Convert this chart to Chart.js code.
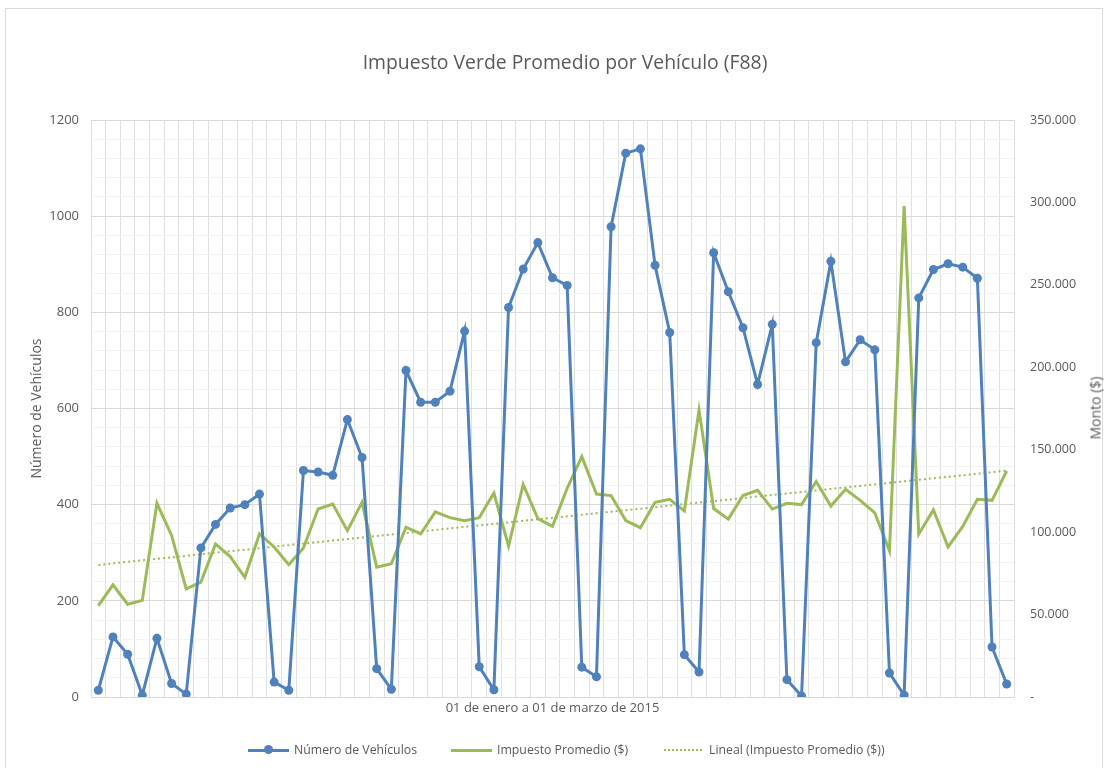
<!DOCTYPE html>
<html>
<head>
<meta charset="utf-8">
<script src="https://cdn.jsdelivr.net/npm/chart.js@4.4.0/dist/chart.umd.min.js"></script>
<style>
html, body { margin: 0; padding: 0; background: #fff; }
#wrap { position: relative; width: 1108px; height: 768px; overflow: hidden; font-family: "Open Sans", sans-serif; color: #595959; }
#frame { position: absolute; left: 5px; top: 8px; width: 1098px; height: 790px; border: 1px solid #d9d9d9; box-sizing: border-box; }
#cv { position: absolute; left: 0; top: 0; }
#title { position: absolute; top: 48px; left: 265px; width: 600px; text-align: center; font-size: 19.4px; white-space: nowrap; }
#ytitle2 { position: absolute; left: 1095px; top: 408px; transform: translate(-50%, -50%) rotate(-90deg); font-size: 14px; white-space: nowrap; }
.lg { position: absolute; top: 741px; font-size: 12.3px; white-space: nowrap; line-height: 18px; }
.mk { position: absolute; top: 749px; height: 0; }
</style>
</head>
<body>
<div id="wrap">
  <div id="frame"></div>
  <canvas id="cv" width="1108" height="768"></canvas>
  <div id="title">Impuesto Verde Promedio por Vehículo (F88)</div>
  <div id="ytitle2">Monto ($)</div>

  <div class="mk" style="left:248px;width:41px;border-top:3px solid #4f81bd;"></div>
  <div class="mk" style="left:264px;top:745px;width:9px;height:9px;border-radius:50%;background:#4f81bd;"></div>
  <div class="lg" style="left:294px;">Número de Vehículos</div>

  <div class="mk" style="left:451px;width:41px;border-top:3px solid #9bbb59;"></div>
  <div class="lg" style="left:497px;">Impuesto Promedio ($)</div>

  <div class="mk" style="left:664px;width:38px;border-top:2px dotted #9bbb59;"></div>
  <div class="lg" style="left:709px;">Lineal (Impuesto Promedio ($))</div>
</div>
<script>
const blue = '#4f81bd';
const green = '#9bbb59';
const txt = '#595959';
const font = 'Open Sans';

// one point per day, 01 ene - 01 mar 2015 (axis shows no tick labels)
const days = Array.from({ length: 63 }, (_, i) => String(i + 1));

const vehiculos = [14,125,89,4,122,28,6,310,359,393,400,422,31,14,471,468,461,577,498,59,
  16,679,613,613,636,761,63,15,810,890,945,872,856,62,42,978,1131,1140,898,758,
  88,52,924,843,768,650,775,36,2,737,906,697,743,722,50,4,830,889,901,894,871,104,27];

const impuesto = [55400,68000,56300,58600,117500,98000,65600,69700,92800,85200,72600,98900,91000,80200,90400,114000,117000,100900,118100,78800,
  80800,103000,98900,112300,108800,107000,108800,123700,91600,128900,108200,103500,126600,145800,123100,122200,107000,102700,118100,119900,
  112900,174100,114300,107900,122200,125400,114000,117500,116700,130700,115800,126000,119300,111700,88700,297800,98900,113500,91000,103500,119900,119300,137100];

// least squares trend, as in the spreadsheet's linear trendline
function trend(ys) {
  const n = ys.length;
  let sx = 0, sy = 0, sxy = 0, sxx = 0;
  ys.forEach((y, x) => { sx += x; sy += y; sxy += x * y; sxx += x * x; });
  const b = (n * sxy - sx * sy) / (n * sxx - sx * sx);
  const a = (sy - b * sx) / n;
  return ys.map((_, x) => a + b * x);
}

const fmt = v => v === 0 ? '-' : String(v).replace(/\B(?=(\d{3})+(?!\d))/g, '.');

new Chart(document.getElementById('cv'), {
  type: 'line',
  data: {
    labels: days,
    datasets: [
      { label: 'Número de Vehículos', data: vehiculos, yAxisID: 'y', borderColor: blue, backgroundColor: blue,
        borderWidth: 3, pointRadius: 4.5, pointBorderWidth: 0, pointBackgroundColor: blue, tension: 0, order: 0 },
      { label: 'Impuesto Promedio ($)', data: impuesto, yAxisID: 'y1', borderColor: green, backgroundColor: green,
        borderWidth: 3, pointRadius: 0, tension: 0, order: 1 },
      { label: 'Lineal (Impuesto Promedio ($))', data: trend(impuesto), yAxisID: 'y1', borderColor: green,
        borderWidth: 2, borderDash: [2, 3], pointRadius: 0, tension: 0, order: 2 }
    ]
  },
  options: {
    responsive: false,
    animation: false,
    layout: { padding: { top: 120, left: 0, right: 0, bottom: 0 } },
    plugins: { legend: { display: false }, tooltip: { enabled: false } },
    scales: {
      x: {
        offset: true,
        grid: { offset: true, color: '#e0e0e0', drawTicks: false },
        border: { color: '#d9d9d9' },
        ticks: { display: false },
        title: { display: true, text: '01 de enero a 01 de marzo de 2015', color: txt, font: { family: font, size: 13 }, padding: { top: 0, bottom: 52 } },
        afterFit: s => { s.height = 71; }
      },
      y: {
        position: 'left', min: 0, max: 1200,
        ticks: { stepSize: 40, autoSkip: false, maxTicksLimit: 100, padding: 12, color: txt, font: { family: font, size: 13 },
          callback: v => v % 200 === 0 ? v : '' },
        grid: { drawTicks: false, color: c => (c.tick && c.tick.value % 200 === 0) ? '#d9d9d9' : '#f2f2f2' },
        border: { display: false },
        title: { display: true, text: 'Número de Vehículos', color: txt, font: { family: font, size: 14 }, padding: { top: 29, bottom: 0 } },
        afterFit: s => { s.width = 91; }
      },
      y1: {
        position: 'right', min: 0, max: 350000,
        ticks: { stepSize: 50000, padding: 16, color: txt, font: { family: font, size: 12.5 }, callback: fmt },
        grid: { drawOnChartArea: false, drawTicks: false },
        border: { display: false },
        afterFit: s => { s.width = 94; }
      }
    }
  }
});
</script>
</body>
</html>
